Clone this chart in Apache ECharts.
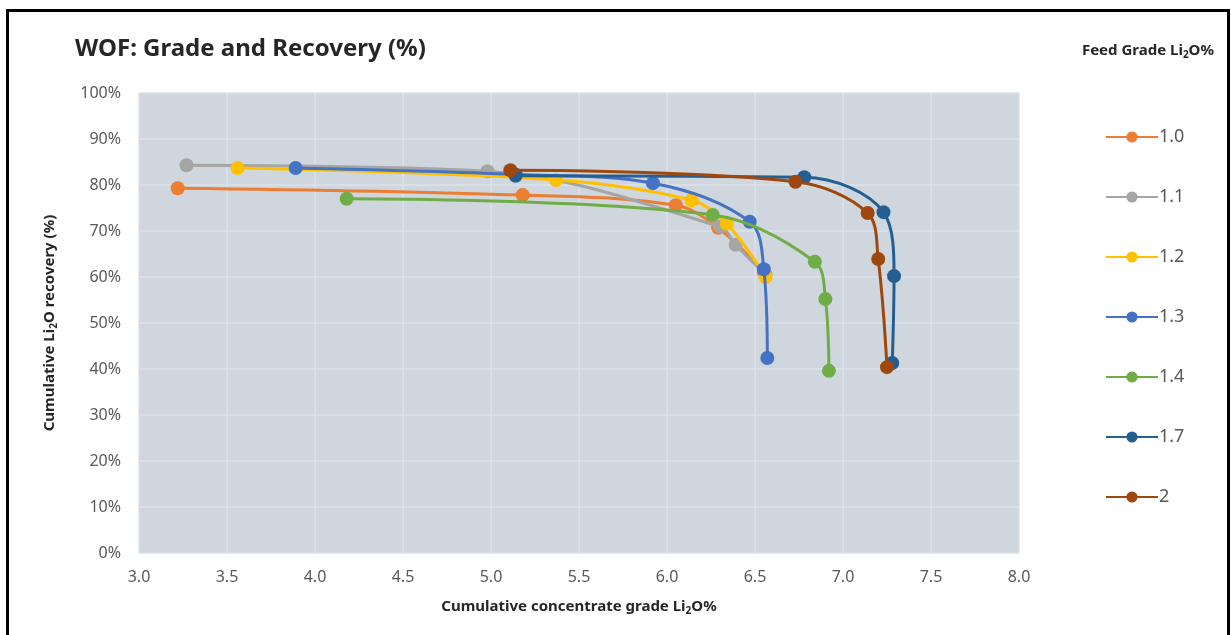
<!DOCTYPE html>
<html>
<head>
<meta charset="utf-8">
<script src="https://cdn.jsdelivr.net/npm/echarts@6/dist/echarts.min.js"></script>
<style>
html,body{margin:0;padding:0;background:#fff;width:1231px;height:635px;overflow:hidden;}
#frame{position:absolute;left:6px;top:9px;width:1224px;height:640px;border:3px solid #000;box-sizing:border-box;}
#chart{position:absolute;left:0;top:0;width:1231px;height:635px;}
</style>
</head>
<body>
<div id="frame"></div>
<div id="chart"></div>
<script>
// Series names (feed grade Li2O %)
const seriesNames = ['1.0', '1.1', '1.2', '1.3', '1.4', '1.7', '2'];
// x: cumulative concentrate grade Li2O %, y: cumulative recovery %
const grade10 = [3.22, 5.18, 6.05, 6.29, 6.55];
const rec10   = [79.3, 77.8, 75.6, 70.7, 61.0];
const grade11 = [3.27, 4.98, 6.30, 6.39, 6.56];
const rec11   = [84.3, 83.0, 71.0, 67.0, 60.5];
const grade12 = [3.56, 5.37, 6.14, 6.34, 6.56];
const rec12   = [83.7, 81.1, 76.7, 71.6, 60.0];
const grade13 = [3.89, 5.14, 5.92, 6.47, 6.55, 6.57];
const rec13   = [83.7, 82.3, 80.4, 72.0, 61.7, 42.4];
const grade14 = [4.18, 6.26, 6.84, 6.90, 6.92];
const rec14   = [77.0, 73.5, 63.3, 55.2, 39.6];
const grade17 = [5.14, 6.78, 7.23, 7.29, 7.28];
const rec17   = [82.0, 81.7, 74.1, 60.2, 41.3];
const grade20 = [5.11, 6.73, 7.14, 7.20, 7.25];
const rec20   = [83.2, 80.7, 73.9, 63.9, 40.4];

const xTicks = ['3.0','3.5','4.0','4.5','5.0','5.5','6.0','6.5','7.0','7.5','8.0'];
const yTicks = ['0%','10%','20%','30%','40%','50%','60%','70%','80%','90%','100%'];

const grades = [grade10, grade11, grade12, grade13, grade14, grade17, grade20];
const recs = [rec10, rec11, rec12, rec13, rec14, rec17, rec20];
const colors = ['#ED7D31', '#A5A5A5', '#FFC000', '#4472C4', '#70AD47', '#255E91', '#9E480E'];

const series = seriesNames.map((n, i) => ({
  name: n,
  type: 'line',
  smooth: 0.35,
  data: grades[i].map((g, j) => [g, recs[i][j]]),
  symbol: 'circle',
  symbolSize: 14,
  lineStyle: { width: 3, color: colors[i] },
  itemStyle: { color: colors[i] },
  z: 2 + i
}));

const richSub = {
  a: { fontSize: 15, fontWeight: 'bold', color: '#262626', fontFamily: 'Noto Sans' },
  s: { fontSize: 10, fontWeight: 'bold', color: '#262626', fontFamily: 'Noto Sans', padding: [8, 0, 0, 0] }
};

const chart = echarts.init(document.getElementById('chart'), null, { renderer: 'canvas' });
chart.setOption({
  animation: false,
  backgroundColor: 'transparent',
  textStyle: { fontFamily: 'Noto Sans' },
  title: [
    { text: 'WOF: Grade and Recovery (%)', left: 70, top: 32,
      textStyle: { fontSize: 24, fontWeight: 'bold', color: '#262626', fontFamily: 'Noto Sans' } },
    { text: '{a|Feed Grade Li}{s|2}{a|O%}', right: 12, top: 37,
      textStyle: { rich: richSub } }
  ],
  legend: {
    orient: 'vertical',
    left: 1100,
    top: 123,
    itemGap: 42,
    itemWidth: 52,
    itemHeight: 14,
    textStyle: { fontSize: 18, color: '#595959', fontFamily: 'Noto Sans', padding: [0, 0, 0, -4] },
    data: seriesNames
  },
  grid: { left: 139, right: 212, top: 93, bottom: 82, show: true, backgroundColor: '#CFD6DD', borderWidth: 0 },
  xAxis: {
    type: 'value', min: 3, max: 8, interval: 0.5,
    name: '{a|Cumulative concentrate grade Li}{s|2}{a|O%}',
    nameLocation: 'middle', nameGap: 45,
    nameTextStyle: { rich: richSub },
    axisLine: { show: false }, axisTick: { show: false },
    axisLabel: { fontSize: 16, color: '#595959', margin: 16,
      formatter: v => xTicks[Math.round((v - 3) / 0.5)] },
    splitLine: { show: true, lineStyle: { color: '#DCE2E8', width: 1.5 } }
  },
  yAxis: {
    type: 'value', min: 0, max: 100, interval: 10,
    name: '{a|Cumulative Li}{s|2}{a|O recovery (%)}',
    nameLocation: 'middle', nameGap: 80, nameRotate: 90,
    nameTextStyle: { rich: richSub },
    axisLine: { show: false }, axisTick: { show: false },
    axisLabel: { fontSize: 16, color: '#595959', margin: 18,
      formatter: v => yTicks[Math.round(v / 10)] },
    splitLine: { show: true, lineStyle: { color: '#DCE2E8', width: 1.5 } }
  },
  series: series
});
</script>
</body>
</html>
